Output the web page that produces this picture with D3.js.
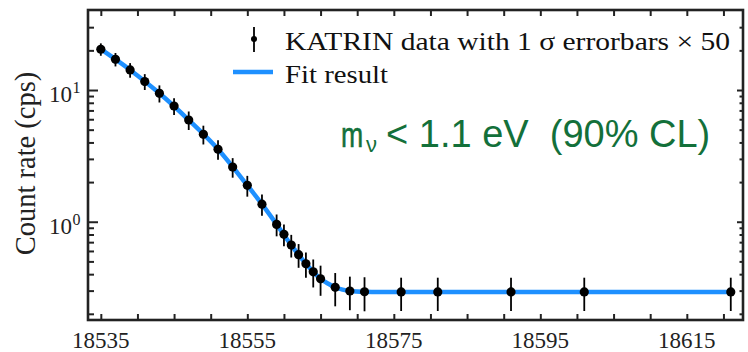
<!DOCTYPE html>
<html>
<head>
<meta charset="utf-8">
<script src="https://cdn.jsdelivr.net/npm/d3@7"></script>
<style>
  html, body { margin: 0; padding: 0; background: #fff; }
  svg { display: block; }
</style>
</head>
<body>
<svg id="chart" width="748" height="352"></svg>
<script>
// ---- data ----
const energies = [18535, 18537, 18539, 18541, 18543, 18545, 18547, 18549, 18551, 18553, 18555, 18557,
                  18559, 18560, 18561, 18562, 18563, 18564, 18565, 18567, 18569, 18571,
                  18576, 18581, 18591, 18601, 18621];
const rates = [20.4, 17.1, 14.2, 11.6, 9.44, 7.56, 5.92, 4.61, 3.55, 2.60, 1.89, 1.36,
               0.955, 0.802, 0.665, 0.562, 0.480, 0.417, 0.369, 0.318, 0.298, 0.294,
               0.293, 0.293, 0.293, 0.293, 0.293];
const errors = [2.2, 2.0, 1.8, 1.6, 1.4, 1.1, 0.95, 0.75, 0.6, 0.44, 0.34, 0.25,
                0.18, 0.15, 0.13, 0.115, 0.105, 0.1, 0.095, 0.09, 0.085, 0.085,
                0.083, 0.083, 0.083, 0.083, 0.083];
const fitEnergies = [18535, 18539, 18543, 18547, 18551, 18555, 18557, 18559, 18561, 18563,
                     18565, 18566, 18567, 18568, 18569, 18571, 18573, 18576, 18621];
const fitRates = [20.4, 14.2, 9.44, 5.92, 3.55, 1.89, 1.36, 0.955, 0.665, 0.480,
                  0.369, 0.340, 0.318, 0.305, 0.298, 0.294, 0.293, 0.293, 0.293];
const xTicks = d3.range(18535, 18621, 5);
const xLabelTicks = [18535, 18555, 18575, 18595, 18615];
const yLabelTicks = [1, 10];
const yLabelExp = ["0", "1"];
const legendLabels = ["KATRIN data with 1 \u03C3 errorbars \u00D7 50", "Fit result"];
const legendWidths = [445, 103];

// ---- layout ----
const L = 88, R = 743, T = 10, B = 320;
const svg = d3.select("#chart");
const x = d3.scaleLinear().domain([18533.25, 18622.67]).range([L, R]);
const y = d3.scaleLog().domain([0.1795, 40.5]).range([B, T]);
const serif = "'Liberation Serif', 'Times New Roman', serif";
const axisColor = "#222";

// fit line
const line = d3.line().x((d, i) => x(fitEnergies[i])).y(d => y(d)).curve(d3.curveMonotoneX);
svg.append("path").datum(fitRates)
  .attr("d", line).attr("fill", "none")
  .attr("stroke", "#1e90ff").attr("stroke-width", 4.5);

// error bars
svg.append("g").selectAll("line").data(rates).join("line")
  .attr("x1", (d, i) => x(energies[i])).attr("x2", (d, i) => x(energies[i]))
  .attr("y1", (d, i) => y(d + errors[i])).attr("y2", (d, i) => y(Math.max(d - errors[i], 0.18)))
  .attr("stroke", "#000").attr("stroke-width", 1.8);
// points
svg.append("g").selectAll("circle").data(rates).join("circle")
  .attr("cx", (d, i) => x(energies[i])).attr("cy", d => y(d))
  .attr("r", 4.6).attr("fill", "#000");

// axes with inward ticks
const bottomAxis = d3.axisBottom(x).tickValues(xTicks).tickSize(-6).tickFormat("");
const topAxis = d3.axisTop(x).tickValues(xTicks).tickSize(-6).tickFormat("");
const yMinor = y.ticks().filter(v => y(v) > T + 1 && y(v) < B - 1);
const yMajorSet = new Set(yLabelTicks);
const leftAxis = d3.axisLeft(y).tickValues(yMinor).tickSize(0).tickFormat("");
[ [bottomAxis, B], [topAxis, T] ].forEach(([ax, py]) => {
  const g = svg.append("g").attr("transform", `translate(0,${py})`).call(ax);
  g.select(".domain").remove();
  g.selectAll(".tick line").attr("stroke", axisColor).attr("stroke-width", 2);
});
const gl = svg.append("g").attr("transform", `translate(${L},0)`).call(leftAxis);
gl.select(".domain").remove();
gl.selectAll(".tick line").attr("x2", d => yMajorSet.has(d) ? 10 : 6)
  .attr("stroke", axisColor).attr("stroke-width", 2);
const gr = svg.append("g").attr("transform", `translate(${R},0)`).call(d3.axisRight(y).tickValues(yMinor).tickSize(0).tickFormat(""));
gr.select(".domain").remove();
gr.selectAll(".tick line").attr("x2", d => yMajorSet.has(d) ? -6 : -3.5)
  .attr("stroke", axisColor).attr("stroke-width", 2);

// frame
svg.append("rect").attr("x", L).attr("y", T).attr("width", R - L).attr("height", B - T)
  .attr("fill", "none").attr("stroke", axisColor).attr("stroke-width", 2.6);

// x tick labels
svg.append("g").selectAll("text").data(xLabelTicks).join("text")
  .attr("x", d => x(d)).attr("y", 348).attr("text-anchor", "middle")
  .attr("font-family", serif).attr("font-size", 23).attr("fill", "#222")
  .text(d => d);

// y tick labels
svg.append("g").selectAll("text").data(yLabelTicks).join("text")
  .attr("x", 72).attr("y", d => y(d) + 12).attr("text-anchor", "end")
  .attr("font-family", serif).attr("font-size", 23).attr("fill", "#222")
  .text("10");
svg.append("g").selectAll("text").data(yLabelTicks).join("text")
  .attr("x", 72.5).attr("y", d => y(d) + 3).attr("text-anchor", "start")
  .attr("font-family", serif).attr("font-size", 16).attr("fill", "#222")
  .text((d, i) => yLabelExp[i]);

// y axis title
svg.append("text").attr("transform", "translate(35,163.5) rotate(-90)")
  .attr("text-anchor", "middle").attr("font-family", serif).attr("font-size", 28.5)
  .attr("fill", "#222").text("Count rate (cps)");

// legend
svg.append("line").attr("x1", 254).attr("x2", 254).attr("y1", 27).attr("y2", 52)
  .attr("stroke", "#000").attr("stroke-width", 1.8);
svg.append("circle").attr("cx", 254).attr("cy", 39).attr("r", 3).attr("fill", "#000");
svg.append("line").attr("x1", 233).attr("x2", 273).attr("y1", 72).attr("y2", 72)
  .attr("stroke", "#1e90ff").attr("stroke-width", 4.5);
svg.append("g").selectAll("text").data(legendLabels).join("text")
  .attr("x", 285).attr("y", (d, i) => 49.5 + i * 33)
  .attr("font-family", serif).attr("font-size", 26).attr("fill", "#111")
  .attr("textLength", (d, i) => legendWidths[i]).attr("lengthAdjust", "spacingAndGlyphs")
  .text(d => d);

// annotation
const sans = "'Liberation Sans', Arial, sans-serif";
const green = "#13703a";
svg.append("text").attr("transform", "translate(341,146.7) scale(0.74,1)")
  .attr("font-family", sans).attr("font-size", 36).attr("fill", green)
  .attr("stroke", green).attr("stroke-width", 0.6).text("m");
svg.append("text").attr("x", 366).attr("y", 152)
  .attr("font-family", sans).attr("font-size", 22).attr("fill", green).text("\u03BD");
svg.append("text").attr("x", 386).attr("y", 146.7).attr("xml:space", "preserve")
  .attr("font-family", sans).attr("font-size", 38).attr("fill", green)
  .text("< 1.1 eV  (90% CL)");
</script>
</body>
</html>
